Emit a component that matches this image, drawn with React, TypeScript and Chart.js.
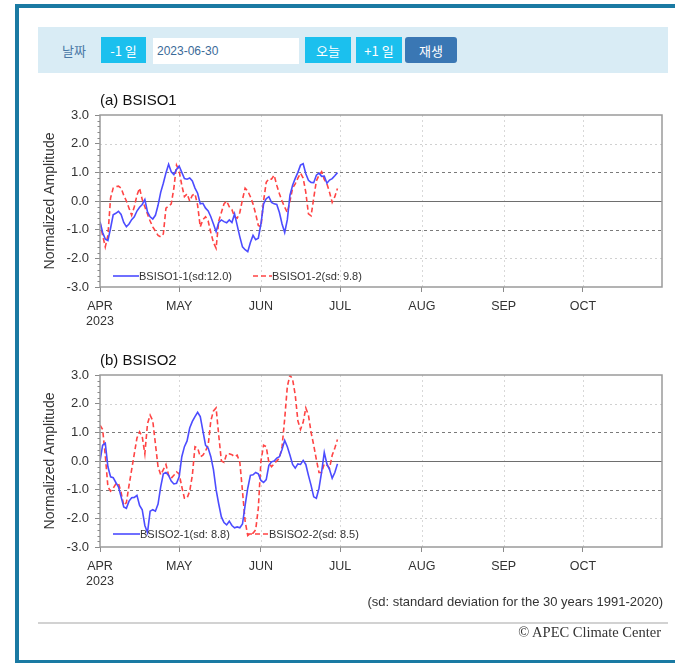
import React, { useEffect, useRef } from "react";
import { Chart, registerables } from "chart.js";

Chart.register(...registerables);

// ---------- data ----------
const monthTickDays = [0, 30, 61, 91, 122, 153, 183];
const monthTickLabels = ["APR", "MAY", "JUN", "JUL", "AUG", "SEP", "OCT"];
const yearLabel = "2023";
const xMaxDay = 213;
const yTickValues = [-3, -2, -1, 0, 1, 2, 3];

// daily values from 2023-04-01 (index 0) to 2023-06-30 (index 90)
const bsiso1_1 = [
  -0.72, -1.1, -1.33, -1.38, -0.95, -0.48, -0.43, -0.36, -0.47, -0.75,
  -0.9, -0.8, -0.65, -0.55, -0.35, -0.22, -0.12, 0.05, -0.38, -0.55,
  -0.63, -0.5, -0.15, 0.3, 0.62, 0.98, 1.28, 1.02, 0.92, 1.1,
  1.22, 1.0, 0.78, 0.76, 0.8, 0.7, 0.45, 0.27, -0.1, -0.08,
  -0.25, -0.35, -0.55, -0.8, -1.07, -0.75, -0.66, -0.72, -0.76, -0.66,
  -0.75, -0.45, -0.85, -1.25, -1.6, -1.7, -1.77, -1.45, -1.2, -1.35,
  -1.3, -0.8, -0.1, 0.08, 0.15, -0.05, -0.1, -0.12, -0.4, -0.8,
  -1.1, -0.65, 0.2, 0.55, 0.79, 1.0, 1.25, 1.3, 0.95, 0.72,
  0.65, 0.64, 0.9, 0.97, 0.86, 0.87, 0.62, 0.73, 0.78, 0.88,
  0.99,
];
const bsiso1_2 = [
  -0.75, -1.2, -1.6, -1.2, 0.1, 0.45, 0.5, 0.52, 0.45, 0.2,
  0.0, -0.25, -0.5, -0.2, 0.2, 0.45, 0.05, -0.2, -0.45, -0.7,
  -0.9, -1.05, -1.2, -1.25, -1.15, -0.25, -0.18, -0.1, 0.45, 1.25,
  1.05, 0.55, 0.15, 0.25, 0.0, 0.2, 0.25, -0.15, -0.9, -0.65,
  -0.55, -0.7, -1.1, -1.45, -1.65, -0.7, -0.4, -0.1, 0.0, -0.2,
  -0.3, -0.55, -0.6, -0.4, 0.05, 0.45, 0.35, 0.15, -0.1, -0.45,
  -0.85, -0.9, 0.0, 0.65, 0.78, 0.76, 0.9, 0.55, 0.25, 0.0,
  -0.22, -0.4, 0.0, 0.45, 0.6, 0.8, 0.97, 0.8, 0.3, -0.45,
  -0.52, 0.1, 0.7, 0.9, 1.02, 0.75, 0.6, 0.3, -0.05, 0.15,
  0.44,
];
const bsiso2_1 = [
  0.0, 0.55, 0.62, -0.2, -0.55, -0.58, -0.75, -0.9, -1.25, -1.6,
  -1.65, -1.4, -1.28, -1.27, -1.2, -1.55, -1.7, -2.25, -2.5, -1.75,
  -1.7, -1.75, -1.5, -0.9, -0.45, -0.4, -0.5, -0.7, -0.8, -0.78,
  -0.55, 0.15, 0.5, 0.7, 1.15, 1.38, 1.55, 1.7, 1.55, 1.05,
  0.55, 0.45, 0.15, -0.3, -1.0, -1.5, -1.95, -2.15, -2.23, -2.1,
  -2.25, -2.33, -2.3, -2.33, -2.2, -1.55, -0.95, -0.5, -0.48, -0.4,
  -0.45, -0.68, -0.75, -0.65, -0.15, -0.03, 0.0, 0.1, 0.15, 0.4,
  0.72, 0.5, 0.2, -0.12, -0.25, -0.1, -0.12, 0.02, -0.12, -0.5,
  -0.85, -1.25, -1.3, -0.95, -0.38, 0.3, -0.1, -0.3, -0.6, -0.4,
  -0.1,
];
const bsiso2_2 = [
  1.25, 1.1, 0.2, -0.9, -1.05, -0.95, -0.8, -0.78, -1.1, -1.55,
  -1.45, -0.85, -0.3, 0.25, 0.8, 1.02, 0.85, 0.25, 1.3, 1.6,
  1.4, 0.6, -0.2, -0.48, -0.3, -0.12, -0.5, -0.6, -0.5, -0.38,
  -0.45, -0.9, -1.3, -1.3, -1.05, -0.5, 0.5, 0.45, 0.15, 0.2,
  0.35, 0.55, 1.4, 1.75, 1.85, 0.9, 0.0, -0.05, 0.25, 0.25,
  0.22, 0.15, 0.2, -0.05, -1.05, -2.1, -2.6, -2.52, -2.52, -2.4,
  -1.65, 0.0, 0.55, 0.5, -0.05, -0.2, -0.1, 0.0, 0.1, 0.5,
  1.47, 2.6, 3.0, 2.85, 2.3, 1.4, 1.1, 1.35, 1.85, 1.6,
  1.0, 0.55, 0.05, -0.4, -0.4, -0.1, -0.15, -0.25, 0.2, 0.45,
  0.75,
];

const panel1Labels = ["BSISO1-1(sd:12.0)", "BSISO1-2(sd: 9.8)"];
const panel2Labels = ["BSISO2-1(sd: 8.8)", "BSISO2-2(sd: 8.5)"];

// ---------- styles ----------
const FONT = "'Liberation Sans', Arial, Helvetica, sans-serif";
const KFONT = "'Noto Sans CJK KR', 'Noto Sans', sans-serif";
const BLUE = "#4c4cff";
const RED = "#ff4444";
const TEXT = "#333333";

type LegendPos = { x0: number; x1: number; tx: number };

function makeDecor(title: string, labels: string[], legendPos: LegendPos[], legendDy: number) {
  const colors = [BLUE, RED];
  const dashes = [[], [5, 3]];
  return {
    id: "decor",
    beforeDatasetsDraw(chart: any) {
      const { ctx, chartArea: a, scales } = chart;
      const x = scales.x;
      const y = scales.y;
      ctx.save();
      ctx.lineWidth = 1;
      // vertical month grid (dotted light)
      ctx.strokeStyle = "#d8d8d8";
      ctx.setLineDash([2, 3]);
      for (const d of monthTickDays.slice(1)) {
        const px = Math.round(x.getPixelForValue(d)) + 0.5;
        ctx.beginPath();
        ctx.moveTo(px, a.top);
        ctx.lineTo(px, a.bottom);
        ctx.stroke();
      }
      // horizontal grid
      for (const v of yTickValues) {
        if (v === 3 || v === -3) continue;
        const py = Math.round(y.getPixelForValue(v)) + 0.5;
        if (v === 0) {
          ctx.setLineDash([]);
          ctx.strokeStyle = "#6e6e6e";
        } else if (Math.abs(v) === 1) {
          ctx.setLineDash([3, 3]);
          ctx.strokeStyle = "#7a7a7a";
        } else {
          ctx.setLineDash([2, 3]);
          ctx.strokeStyle = "#d0d0d0";
        }
        ctx.beginPath();
        ctx.moveTo(a.left, py);
        ctx.lineTo(a.right, py);
        ctx.stroke();
      }
      ctx.restore();
    },
    afterDatasetsDraw(chart: any) {
      const { ctx, chartArea: a, scales } = chart;
      const y = scales.y;
      ctx.save();
      // plot frame
      ctx.setLineDash([]);
      ctx.strokeStyle = "#9a9a9a";
      ctx.lineWidth = 1.5;
      ctx.strokeRect(a.left, a.top, a.right - a.left, a.bottom - a.top);
      // minor y ticks
      ctx.lineWidth = 1;
      ctx.strokeStyle = "#8a8a8a";
      for (let k = -15; k <= 15; k++) {
        if (k % 5 === 0) continue;
        const py = Math.round(y.getPixelForValue(k * 0.2)) + 0.5;
        ctx.beginPath();
        ctx.moveTo(a.left - 2.5, py);
        ctx.lineTo(a.left, py);
        ctx.stroke();
      }
      // legend
      const ly = a.bottom - legendDy;
      ctx.font = `11px ${FONT}`;
      ctx.textBaseline = "middle";
      ctx.textAlign = "left";
      labels.forEach((lab, i) => {
        const p = legendPos[i];
        ctx.strokeStyle = colors[i];
        ctx.lineWidth = 1.6;
        ctx.setLineDash(dashes[i]);
        ctx.beginPath();
        ctx.moveTo(a.left + p.x0, ly);
        ctx.lineTo(a.left + p.x1, ly);
        ctx.stroke();
        ctx.setLineDash([]);
        ctx.fillStyle = TEXT;
        ctx.fillText(lab, a.left + p.tx, ly + 0.5);
      });
      // title
      ctx.font = `15px ${FONT}`;
      ctx.fillStyle = "#111";
      ctx.textBaseline = "middle";
      ctx.fillText(title, a.left, a.top - 14);
      // y-axis title
      ctx.translate(a.left - 50, (a.top + a.bottom) / 2);
      ctx.rotate(-Math.PI / 2);
      ctx.textAlign = "center";
      ctx.font = `14px ${FONT}`;
      ctx.fillStyle = TEXT;
      ctx.fillText("Normalized Amplitude", 0, 0);
      ctx.restore();
    },
  };
}

type PanelProps = {
  top: number;
  title: string;
  s1: number[];
  s2: number[];
  labels: string[];
  legendPos: LegendPos[];
  legendDy: number;
};

function Panel({ top, title, s1, s2, labels, legendPos, legendDy }: PanelProps) {
  const ref = useRef<HTMLCanvasElement>(null);
  useEffect(() => {
    const chart = new Chart(ref.current as HTMLCanvasElement, {
      type: "line",
      data: {
        datasets: [
          {
            label: labels[0],
            data: s1.map((v, i) => ({ x: i, y: v })),
            borderColor: BLUE,
            borderWidth: 1.6,
            pointRadius: 0,
            tension: 0,
          },
          {
            label: labels[1],
            data: s2.map((v, i) => ({ x: i, y: v })),
            borderColor: RED,
            borderWidth: 1.6,
            borderDash: [5, 3],
            pointRadius: 0,
            tension: 0,
          },
        ],
      },
      options: {
        responsive: false,
        animation: false,
        layout: { padding: { top: 25, right: 13, bottom: 8, left: 0 } },
        plugins: { legend: { display: false }, tooltip: { enabled: false } },
        scales: {
          x: {
            type: "linear",
            min: 0,
            max: xMaxDay,
            afterFit: (s: any) => {
              s.height = 40;
            },
            afterBuildTicks: (s: any) => {
              s.ticks = monthTickDays.map((v) => ({ value: v }));
            },
            ticks: {
              autoSkip: false,
              maxRotation: 0,
              padding: 7,
              color: TEXT,
              font: { family: FONT, size: 12.5 },
              callback: (v: any) => {
                const i = monthTickDays.indexOf(Number(v));
                return i === 0 ? [monthTickLabels[0], yearLabel] : monthTickLabels[i];
              },
            },
            grid: { drawOnChartArea: false, drawTicks: true, tickLength: 5, tickColor: "#8a8a8a", tickWidth: 1 },
            border: { display: false },
          },
          y: {
            min: -3,
            max: 3,
            afterFit: (s: any) => {
              s.width = 70;
            },
            afterBuildTicks: (s: any) => {
              s.ticks = yTickValues.map((v) => ({ value: v }));
            },
            ticks: {
              padding: 6,
              color: TEXT,
              font: { family: FONT, size: 13 },
              callback: (v: any) => Number(v).toFixed(1),
            },
            grid: { drawOnChartArea: false, drawTicks: true, tickLength: 5, tickColor: "#8a8a8a", tickWidth: 1 },
            border: { display: false },
          },
        },
      },
      plugins: [makeDecor(title, labels, legendPos, legendDy)],
    } as any);
    return () => chart.destroy();
  }, []);
  return (
    <canvas
      ref={ref}
      width={645}
      height={245}
      style={{ position: "absolute", left: 30, top, width: 645, height: 245 }}
    />
  );
}

const btn = (left: number, width: number, bg: string, radius = 0): React.CSSProperties => ({
  position: "absolute",
  left,
  top: 37,
  width,
  height: 26,
  background: bg,
  color: "#fff",
  borderRadius: radius,
  display: "flex",
  alignItems: "center",
  justifyContent: "center",
  fontFamily: KFONT,
  fontSize: 13,
});

export default function App() {
  return (
    <div
      style={{
        position: "absolute",
        left: 0,
        top: 0,
        width: 675,
        height: 663,
        overflow: "hidden",
        background: "#fff",
        fontFamily: FONT,
      }}
    >
      <div
        style={{
          position: "absolute",
          left: 15,
          top: 4,
          width: 720,
          height: 660,
          border: "4px solid #1a7aa3",
          boxSizing: "border-box",
        }}
      />
      <div style={{ position: "absolute", left: 38, top: 27, width: 630, height: 46, background: "#d9ecf5" }} />
      <div
        style={{
          position: "absolute",
          left: 62,
          top: 38,
          height: 24,
          display: "flex",
          alignItems: "center",
          fontFamily: KFONT,
          fontSize: 13,
          color: "#4a78a6",
        }}
      >
        날짜
      </div>
      <div style={btn(101, 45, "#1bc0ee")}>-1 일</div>
      <div
        style={{
          position: "absolute",
          left: 153,
          top: 38,
          width: 146,
          height: 26,
          background: "#fff",
          display: "flex",
          alignItems: "center",
          paddingLeft: 4,
          boxSizing: "border-box",
          fontFamily: FONT,
          fontSize: 12,
          color: "#3b6a98",
        }}
      >
        2023-06-30
      </div>
      <div style={btn(305, 46, "#1bc0ee")}>오늘</div>
      <div style={btn(356, 46, "#1bc0ee")}>+1 일</div>
      <div style={btn(405, 52, "#3a77b4", 3)}>재생</div>

      <Panel
        top={90}
        title="(a) BSISO1"
        s1={bsiso1_1}
        s2={bsiso1_2}
        labels={panel1Labels}
        legendPos={[
          { x0: 13, x1: 39, tx: 39 },
          { x0: 153, x1: 172, tx: 172 },
        ]}
        legendDy={11}
      />
      <Panel
        top={350}
        title="(b) BSISO2"
        s1={bsiso2_1}
        s2={bsiso2_2}
        labels={panel2Labels}
        legendPos={[
          { x0: 13, x1: 40, tx: 40 },
          { x0: 147, x1: 169, tx: 169 },
        ]}
        legendDy={13}
      />

      <div
        style={{
          position: "absolute",
          right: 12,
          top: 594,
          fontFamily: FONT,
          fontSize: 13,
          color: TEXT,
          whiteSpace: "nowrap",
        }}
      >
        (sd: standard deviation for the 30 years 1991-2020)
      </div>
      <div style={{ position: "absolute", left: 38, top: 622, width: 630, height: 2, background: "#d2d2d2" }} />
      <div
        style={{
          position: "absolute",
          right: 14,
          top: 624,
          fontFamily: "'Liberation Serif', 'Times New Roman', serif",
          fontSize: 14.5,
          color: TEXT,
          whiteSpace: "nowrap",
        }}
      >
        © APEC Climate Center
      </div>
    </div>
  );
}
